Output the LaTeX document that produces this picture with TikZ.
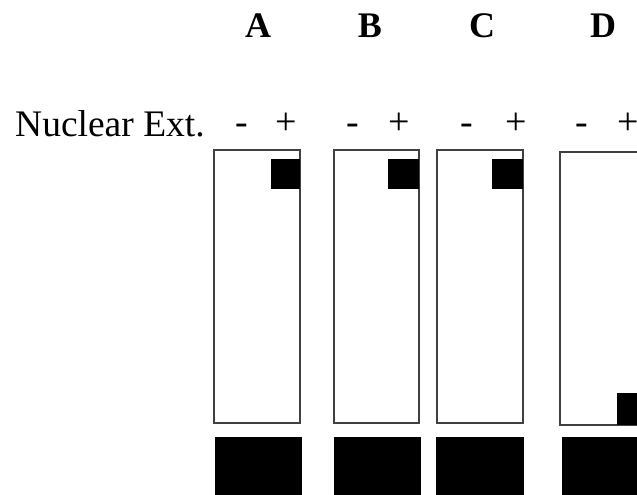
\documentclass[tikz,border=0pt]{standalone}
\usepackage{fontspec}
\setmainfont{Liberation Serif}
\begin{document}
\begin{tikzpicture}[x=1pt,y=-1pt,
  frame/.style={draw=black!75,line width=1.6pt},
  band/.style={fill=black},
  lbl/.style={font=\fontsize{36}{38}\selectfont\bfseries,inner sep=0pt,anchor=base},
  txt/.style={font=\fontsize{37.5}{40}\selectfont,inner sep=0pt,anchor=base west},
  sgn/.style={font=\fontsize{38}{40}\selectfont,inner sep=0pt,anchor=base}]
\useasboundingbox (0,0) rectangle (637,495);
\clip (0,0) rectangle (637,495);
% column letters
\node[lbl] (la) at (258,38) {A};
\node[lbl] (lb) at (370,38) {B};
\node[lbl] (lc) at (482,38) {C};
\node[lbl] (ld) at (603,38) {D};
% row label
\node[txt] (ne) at (15,136) {Nuclear Ext.};
\node[sgn] (am) at (242,134) {-};
\node[sgn] (ap) at (286,134) {+};
\node[sgn] (bm) at (353,134) {-};
\node[sgn] (bp) at (399,134) {+};
\node[sgn] (cm) at (467,134) {-};
\node[sgn] (cp) at (516,134) {+};
\node[sgn] (dm) at (582,134) {-};
\node[sgn] (dp) at (628,134) {+};
% panels
\draw[frame] (214,150) rectangle (300,423);
\draw[frame] (334,150) rectangle (419,423);
\draw[frame] (437,150) rectangle (523,423);
\draw[frame] (645,152) -- (560,152) -- (560,425) -- (645,425);
% spots
\fill[band] (271,159) rectangle (300,189);
\fill[band] (388,159) rectangle (419,189);
\fill[band] (492,159) rectangle (523,189);
\fill[band] (617,393) rectangle (645,425);
% loading bands
\fill[band] (215,437) rectangle (302,495);
\fill[band] (334,437) rectangle (421,495);
\fill[band] (436,437) rectangle (524,495);
\fill[band] (562,437) rectangle (645,495);
\end{tikzpicture}
\end{document}
